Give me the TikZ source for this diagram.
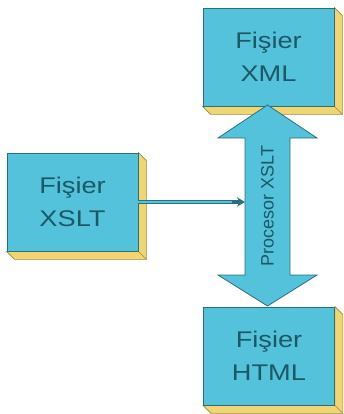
\documentclass[tikz,border=0pt]{standalone}
\usepackage{fontspec}
\setmainfont{Liberation Sans}
\newfontfamily\boxfont[FakeStretch=1.2]{Liberation Sans}
\usetikzlibrary{arrows.meta,backgrounds}

\definecolor{boxcyan}{RGB}{84,194,218}
\definecolor{boxedge}{RGB}{42,112,124}
\definecolor{boxtext}{RGB}{28,88,102}
\definecolor{shadeyellow}{RGB}{242,212,112}
\definecolor{shadeedge}{RGB}{150,140,70}

\tikzset{every picture/.style={line width=0.75pt}}
\tikzset{
  filebox/.style={draw=boxedge, fill=boxcyan, line width=0.6pt, inner sep=0pt,
    minimum width=98.25pt, minimum height=73.5pt, align=center, text=boxtext,
    font=\boxfont\fontsize{17}{25}\selectfont},
  filedepth/.style={fill=shadeyellow, draw=shadeedge, line width=0.5pt},
  procarrow/.style={fill=boxcyan, draw=boxedge, line width=0.6pt},
}

\begin{document}
\begin{tikzpicture}[x=0.75pt,y=0.75pt,yscale=-1,xscale=1]
		\useasboundingbox (0,0) rectangle (343,414);
		
		% File boxes
		\node [filebox] (xml) at (268.5,57) {Fişier\\XML};
		\node [filebox] (xslt) at (72.5,202) {Fişier\\XSLT};
		\node [filebox] (html) at (269,356) {Fişier\\HTML};
		
		% Depth of the boxes
		\begin{scope}[on background layer]
		\foreach \f in {xml,xslt,html}{
			\draw [filedepth] (\f.north east) -- ++(8,8) |- ([shift={(8,8)}]\f.south west) -- (\f.south west) -- (\f.south east) -- cycle ;
			\draw [shadeedge, line width=0.5pt] (\f.south east) -- ++(8,8) ;
		}
		\end{scope}
		
		% Double arrow between XML and HTML
		\draw [procarrow] (267.5,105) -- (317,138) -- (290,138) -- (290,275) -- (317,275) -- (267.5,306) -- (218,275) -- (245,275) -- (245,138) -- (218,138) -- cycle ;
		
		% Text Node
		\node [rotate=90, text=boxtext, font=\fontsize{13.5}{16}\selectfont] (proc) at (267.5,206) {Procesor XSLT};
		
		% Connector from XSLT
		\coordinate (shaft) at (245,202);
		\draw [boxedge, line width=3.4pt, shorten >=4pt] (xslt.east) -- (shaft) ;
		\draw [boxcyan, line width=1.8pt, shorten >=4pt] (xslt.east) -- (shaft) ;
		\draw [boxedge, line width=0.8pt, -{Stealth[length=6pt,width=7pt]}] ([xshift=-10]shaft) -- (shaft) ;
		
\end{tikzpicture}
\end{document}
